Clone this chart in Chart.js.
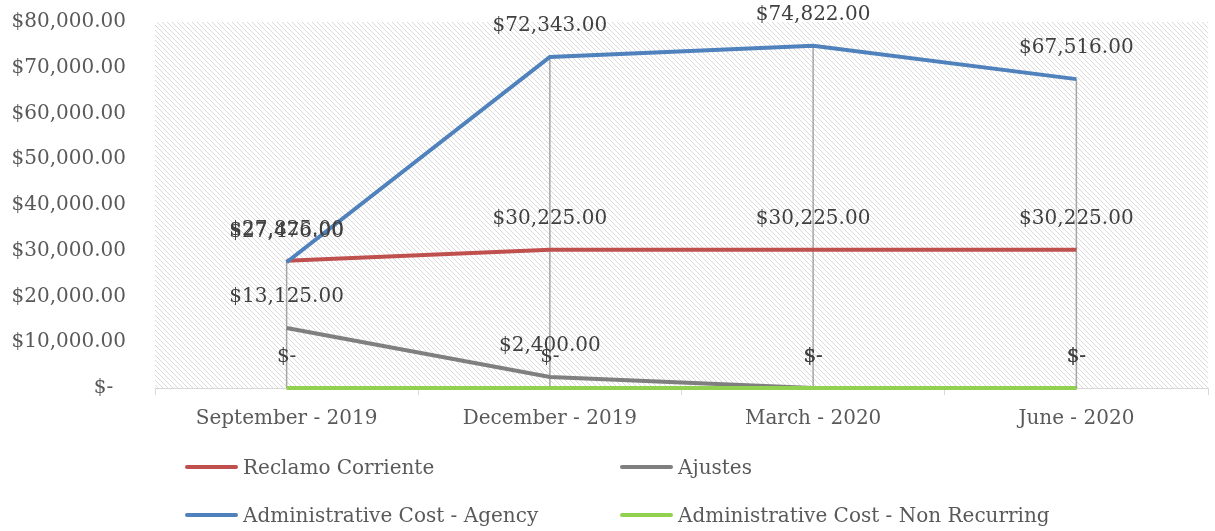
<!DOCTYPE html>
<html>
<head>
<meta charset="utf-8">
<script src="https://cdn.jsdelivr.net/npm/chart.js@4/dist/chart.umd.min.js"></script>
<style>
  html, body { margin: 0; padding: 0; background: #fff; }
  #wrap { position: relative; width: 1215px; height: 531px; }
  #chart { position: absolute; left: 0; top: 0; }
  .leg { position: absolute; display: flex; align-items: center; font-family: 'DejaVu Serif', serif; font-size: 20px; color: #595959; white-space: nowrap; }
  .leg i { display: inline-block; width: 53px; height: 4px; border-radius: 2px; margin-right: 5px; }
</style>
</head>
<body>
<div id="wrap">
  <canvas id="chart" width="1215" height="531"></canvas>
  <div id="legend"></div>
</div>
<script>
// ---- data ----
const categories = ['September - 2019', 'December - 2019', 'March - 2020', 'June - 2020'];
const reclamoCorriente = [27825, 30225, 30225, 30225];
const ajustes = [13125, 2400, 0, 0];
const adminAgency = [27476, 72343, 74822, 67516];
const adminNonRecurring = [0, 0, 0, 0];
const yTicks = [0, 10000, 20000, 30000, 40000, 50000, 60000, 70000, 80000];

const FONT = "'DejaVu Serif', serif";
const fmtMoney = v => v === 0 ? '$-' : '$' + v.toLocaleString('en-US', { minimumFractionDigits: 2, maximumFractionDigits: 2 });

const series = [
  { label: 'Reclamo Corriente', data: reclamoCorriente, color: '#C0504D' },
  { label: 'Ajustes', data: ajustes, color: '#7F7F7F' },
  { label: 'Administrative Cost - Agency', data: adminAgency, color: '#4F81BD' },
  { label: 'Administrative Cost - Non Recurring', data: adminNonRecurring, color: '#92D050' },
];

// hatched plot background (light downward diagonal)
function makeHatch() {
  const n = 5;
  const c = document.createElement('canvas');
  c.width = n; c.height = n;
  const g = c.getContext('2d');
  g.fillStyle = '#fff';
  g.fillRect(0, 0, n, n);
  g.fillStyle = '#dadada';
  for (let i = 0; i < n; i++) g.fillRect(i, i, 1, 1);
  return g.createPattern(c, 'repeat');
}

const hatchPlugin = {
  id: 'hatch',
  beforeDraw(chart) {
    const { ctx, chartArea: a } = chart;
    ctx.save();
    ctx.fillStyle = makeHatch();
    ctx.fillRect(a.left, a.top, a.right - a.left, a.bottom - a.top);
    ctx.restore();
  },
};

// high-low lines: from max to min series value at each category
const dropLinePlugin = {
  id: 'dropLines',
  beforeDatasetsDraw(chart) {
    const { ctx, scales: { x, y } } = chart;
    ctx.save();
    ctx.strokeStyle = '#a6a6a6';
    ctx.lineWidth = 1.5;
    categories.forEach((c, i) => {
      const vals = series.map(s => s.data[i]);
      const px = x.getPixelForValue(i);
      ctx.beginPath();
      ctx.moveTo(px, y.getPixelForValue(Math.max(...vals)));
      ctx.lineTo(px, y.getPixelForValue(Math.min(...vals)));
      ctx.stroke();
    });
    ctx.restore();
  },
};

// data labels above each point
const labelPlugin = {
  id: 'valueLabels',
  afterDatasetsDraw(chart) {
    const { ctx } = chart;
    ctx.save();
    ctx.font = '20px ' + FONT;
    ctx.fillStyle = '#404040';
    ctx.textAlign = 'center';
    ctx.textBaseline = 'middle';
    chart.data.datasets.forEach((ds, di) => {
      chart.getDatasetMeta(di).data.forEach((pt, i) => {
        ctx.fillText(fmtMoney(ds.data[i]), pt.x, pt.y - 31);
      });
    });
    ctx.restore();
  },
};

new Chart(document.getElementById('chart'), {
  type: 'line',
  data: {
    labels: categories,
    datasets: series.map((s, i) => ({
      label: s.label,
      data: s.data,
      borderColor: s.color,
      backgroundColor: s.color,
      borderWidth: 4,
      pointRadius: 0,
      tension: 0,
      order: series.length - i,
      clip: 4,
    })),
  },
  options: {
    responsive: false,
    animation: false,
    layout: { padding: { top: 22, right: 7, bottom: 93, left: 0 } },
    plugins: { legend: { display: false }, tooltip: { enabled: false } },
    scales: {
      x: {
        offset: true,
        grid: { display: true, offset: true, drawOnChartArea: false, color: '#d9d9d9', tickLength: 7 },
        border: { display: true, color: '#d9d9d9', width: 1 },
        ticks: { font: { family: FONT, size: 20 }, color: '#595959', padding: 12, maxRotation: 0 },
        afterFit(scale) { scale.height = 50; },
      },
      y: {
        min: 0,
        max: 80000,
        afterBuildTicks(scale) { scale.ticks = yTicks.map(v => ({ value: v })); },
        grid: { display: false, drawTicks: false },
        border: { display: false },
        ticks: {
          font: { family: FONT, size: 20 },
          color: '#595959',
          padding: 29,
          callback: v => v === 0 ? '$-  ' : fmtMoney(v),
        },
        afterFit(scale) {
          scale.width = 155;
          scale.paddingTop = 0;
          scale.paddingBottom = 0;
        },
      },
    },
  },
  plugins: [hatchPlugin, dropLinePlugin, labelPlugin],
});

// legend (two columns)
const legendPos = [
  { left: 185, top: 467 }, { left: 620, top: 467 },
  { left: 185, top: 515 }, { left: 620, top: 515 },
];
const legendEl = document.getElementById('legend');
series.forEach((s, i) => {
  const d = document.createElement('div');
  d.className = 'leg';
  d.style.left = legendPos[i].left + 'px';
  d.style.top = (legendPos[i].top - 12) + 'px';
  d.style.height = '24px';
  d.innerHTML = '<i style="background:' + s.color + '"></i><span></span>';
  d.querySelector('span').textContent = s.label;
  legendEl.appendChild(d);
});
</script>
</body>
</html>
